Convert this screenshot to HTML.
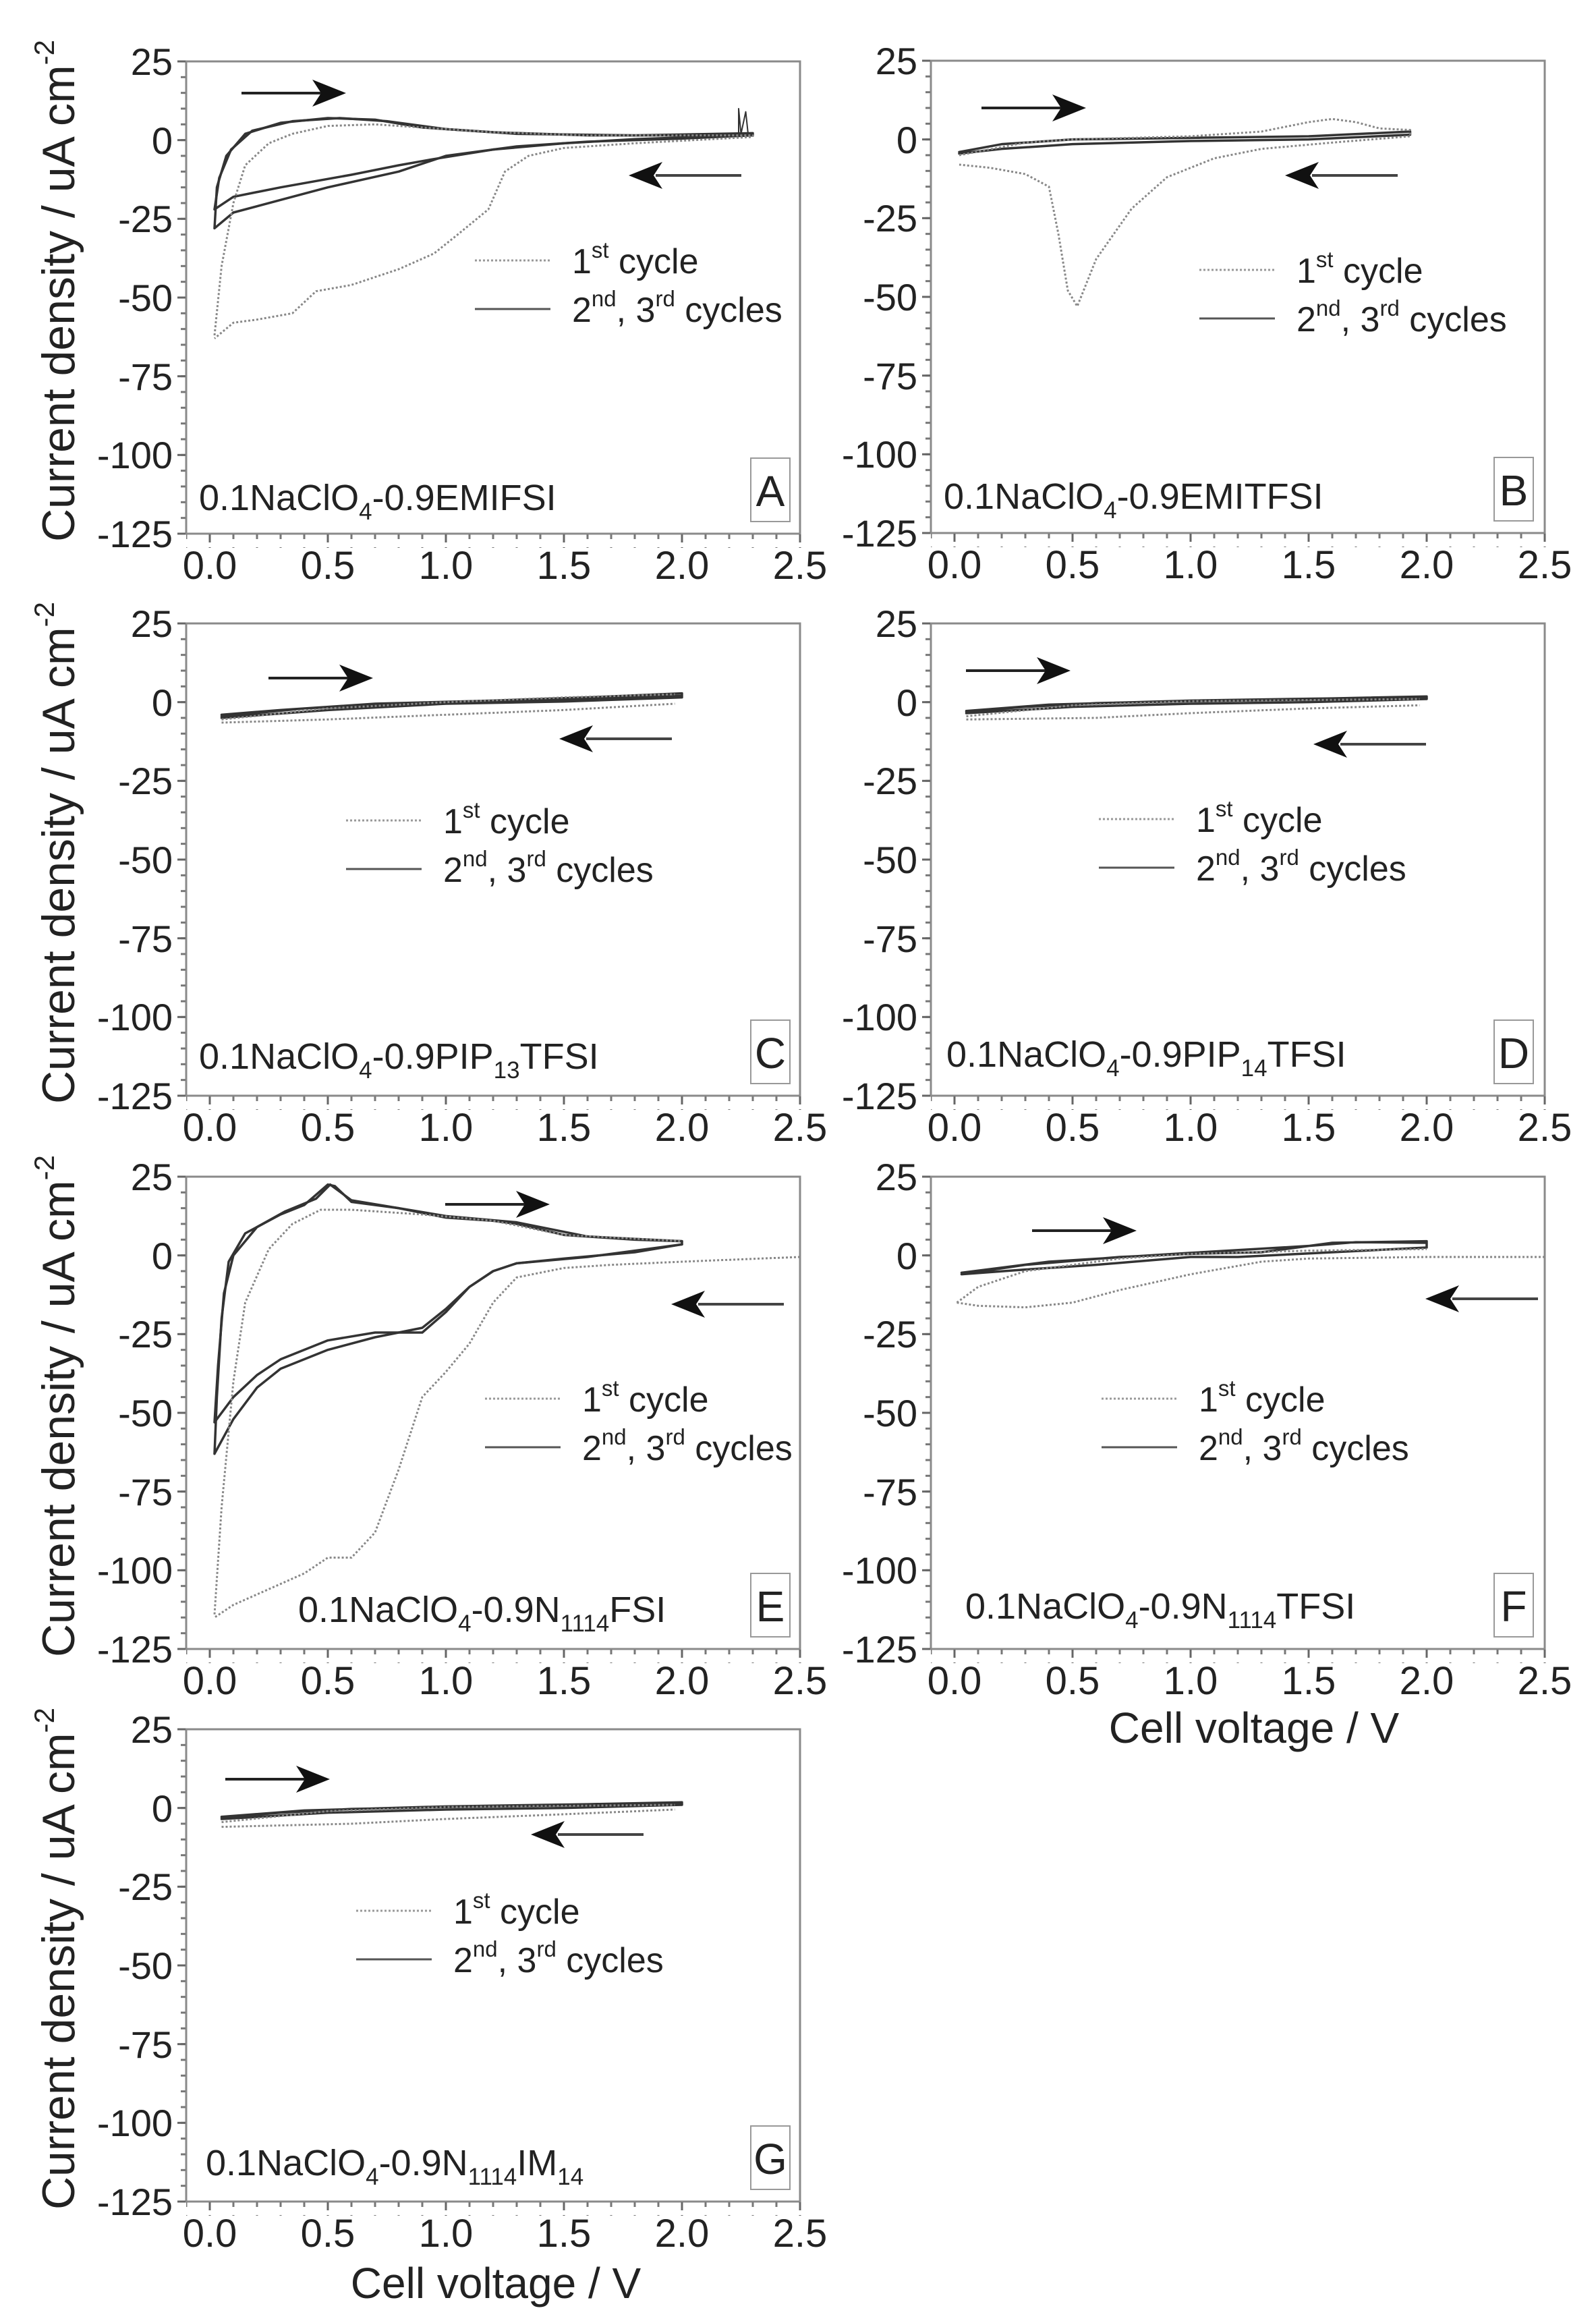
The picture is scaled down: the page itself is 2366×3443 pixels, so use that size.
<!DOCTYPE html>
<html><head><meta charset="utf-8"><style>
html,body{margin:0;padding:0;background:#fff;}
svg{display:block;}
text{font-family:"Liberation Sans",Arial,sans-serif;fill:#222;}
.dat{fill:none;vector-effect:non-scaling-stroke;stroke-linejoin:round;stroke-linecap:round;}
.s{stroke:#333;stroke-width:3.5;}
.d{stroke:#888;stroke-width:3;stroke-dasharray:3 3;stroke-linecap:butt;}
</style></head><body>
<svg width="2366" height="3443" viewBox="0 0 2366 3443" xmlns="http://www.w3.org/2000/svg">
<defs>
<pattern id="xm" patternUnits="userSpaceOnUse" x="-1.5" y="0" width="35" height="20"><rect x="0" y="0" width="3" height="8" fill="#777"/></pattern>
<pattern id="xM" patternUnits="userSpaceOnUse" x="33.5" y="0" width="175" height="20"><rect x="0" y="0" width="3" height="13" fill="#666"/></pattern>
<pattern id="ym" patternUnits="userSpaceOnUse" x="0" y="-1.5" width="20" height="23.3333"><rect x="12" y="0" width="8" height="3" fill="#777"/></pattern>
<pattern id="yM" patternUnits="userSpaceOnUse" x="0" y="-1.5" width="20" height="116.6667"><rect x="7" y="0" width="13" height="3" fill="#666"/></pattern>
<g id="ax">
<rect x="0" y="0" width="910" height="700" fill="none" stroke="#8a8a8a" stroke-width="3"/>
<rect x="0" y="701" width="912" height="20" fill="url(#xm)"/>
<rect x="0" y="701" width="912" height="20" fill="url(#xM)"/>
<rect x="-20" y="-2" width="19" height="704" fill="url(#ym)"/>
<rect x="-20" y="-2" width="19" height="704" fill="url(#yM)"/>
<g font-size="56" text-anchor="end">
<text x="-20" y="20">25</text><text x="-20" y="137">0</text><text x="-20" y="253">-25</text>
<text x="-20" y="370">-50</text><text x="-20" y="487">-75</text><text x="-20" y="603">-100</text><text x="-20" y="720">-125</text>
</g>
<g font-size="58" text-anchor="middle">
<text x="35" y="767">0.0</text><text x="210" y="767">0.5</text><text x="385" y="767">1.0</text>
<text x="560" y="767">1.5</text><text x="735" y="767">2.0</text><text x="910" y="767">2.5</text>
</g>
</g>
<g id="leg">
<line x1="0" y1="0" x2="112" y2="0" stroke="#999" stroke-width="3" stroke-dasharray="3 3"/>
<line x1="0" y1="72" x2="112" y2="72" stroke="#555" stroke-width="3"/>
<text x="144" y="19" font-size="52">1<tspan font-size="33" dy="-23">st</tspan><tspan dy="23"> cycle</tspan></text>
<text x="144" y="91" font-size="52">2<tspan font-size="33" dy="-23">nd</tspan><tspan dy="23">, 3</tspan><tspan font-size="33" dy="-23">rd</tspan><tspan dy="23"> cycles</tspan></text>
</g>
<g id="ra"><line x1="0" y1="0" x2="120" y2="0" stroke="#222" stroke-width="4"/><polygon points="155,0 105,-20 118,0 105,20" fill="#111"/></g>
<g id="la"><line x1="40" y1="0" x2="167" y2="0" stroke="#444" stroke-width="4"/><polygon points="0,0 50,-20 37,0 50,20" fill="#111"/></g>
</defs>

<g font-size="68" text-anchor="middle">
<text transform="translate(110,431) rotate(-90)">Current density / uA cm<tspan font-size="42" dy="-30">-2</tspan></text>
<text transform="translate(110,1264) rotate(-90)">Current density / uA cm<tspan font-size="42" dy="-30">-2</tspan></text>
<text transform="translate(110,2084) rotate(-90)">Current density / uA cm<tspan font-size="42" dy="-30">-2</tspan></text>
<text transform="translate(110,2903) rotate(-90)">Current density / uA cm<tspan font-size="42" dy="-30">-2</tspan></text>
</g>
<g font-size="64" text-anchor="middle">
<text x="1859" y="2583">Cell voltage / V</text>
<text x="735" y="3406">Cell voltage / V</text>
</g>

<g transform="translate(276,91)">
<use href="#ax"/>
<g transform="translate(35,116.667) scale(350,-4.66667)">
<path class="dat s" d="M0.02,-28 L0.03,-15 L0.07,-5 L0.15,2 L0.3,5.5 L0.5,7 L0.7,6.5 L0.9,4 L1.2,2.5 L1.6,1.5 L2.0,1.5 L2.3,2 L2.3,1.5 L2.0,0.5 L1.6,-0.5 L1.3,-2 L1.0,-5 L0.8,-10 L0.5,-15 L0.3,-19 L0.1,-23 L0.02,-28"/>
<path class="dat s" d="M0.02,-22 L0.04,-12 L0.09,-3 L0.18,3 L0.35,6 L0.55,7 L0.75,6 L1.0,3.5 L1.3,2 L1.8,1.5 L2.3,2.2 M2.3,1.6 L1.8,0.3 L1.5,-1 L1.2,-3 L0.95,-6 L0.8,-8 L0.6,-11 L0.3,-15 L0.1,-18 L0.02,-22"/>
<path class="dat d" d="M0.02,-62 L0.05,-40 L0.1,-20 L0.15,-8 L0.25,-1 L0.35,2 L0.5,4.5 L0.7,5 L0.9,4 L1.2,2.5 L1.6,1.5 L2.0,1.5 L2.3,1.5 L2.3,1 L1.8,-1 L1.5,-2.5 L1.35,-5 L1.25,-10 L1.18,-22 L1.05,-30 L0.95,-36 L0.8,-41 L0.6,-46 L0.45,-48 L0.35,-55 L0.2,-57 L0.1,-58 L0.02,-63"/>
<path class="dat s" style="stroke-width:2" d="M2.24,2 L2.24,10 L2.25,2 L2.27,9 L2.28,2"/>
</g>
<use href="#leg" x="428" y="295"/>
<use href="#ra" x="82" y="47"/>
<use href="#la" x="656" y="169"/>
<text x="19" y="665" font-size="54">0.1NaClO<tspan font-size="35" dy="14">4</tspan><tspan dy="-14">-0.9EMIFSI</tspan></text>
<rect x="837" y="588" width="58" height="94" fill="none" stroke="#999" stroke-width="2"/>
<text x="866" y="659" font-size="64" text-anchor="middle">A</text>
</g>

<g transform="translate(1380,90)">
<use href="#ax"/>
<g transform="translate(35,116.667) scale(350,-4.66667)">
<path class="dat s" d="M0.02,-4 L0.2,-1.5 L0.5,0 L1.0,0.5 L1.5,1 L1.93,2.5 L1.93,1.5 L1.5,0 L1.0,-0.5 L0.5,-1.5 L0.2,-3 L0.02,-4.5"/>
<path class="dat d" d="M0.02,-5 L0.3,-1 L0.5,0 L1.0,1 L1.3,2.5 L1.5,5.5 L1.6,6.5 L1.7,5.5 L1.8,3.5 L1.93,3 L1.93,1 L1.6,-1 L1.3,-3 L1.1,-6 L0.9,-12 L0.75,-22 L0.6,-38 L0.52,-53 L0.48,-48 L0.44,-30 L0.4,-15 L0.3,-11 L0.15,-9 L0.02,-8"/>
</g>
<use href="#leg" x="398" y="310"/>
<use href="#ra" x="75" y="70"/>
<use href="#la" x="525" y="170"/>
<text x="19" y="664" font-size="54">0.1NaClO<tspan font-size="35" dy="14">4</tspan><tspan dy="-14">-0.9EMITFSI</tspan></text>
<rect x="835" y="588" width="58" height="94" fill="none" stroke="#999" stroke-width="2"/>
<text x="864" y="659" font-size="64" text-anchor="middle">B</text>
</g>

<g transform="translate(276,924)">
<use href="#ax"/>
<g transform="translate(35,116.667) scale(350,-4.66667)">
<path class="dat s" d="M0.05,-4 L0.3,-2.5 L0.7,-0.5 L1.2,0.5 L1.6,1.5 L2.0,2.8 L2.0,1.5 L1.5,0.2 L1.0,-0.5 L0.5,-2.5 L0.05,-5 M0.05,-4.5 L0.4,-2 L1.0,0 L1.6,1 L2.0,2"/>
<path class="dat d" d="M0.05,-6.5 L0.5,-5.5 L1.0,-4 L1.5,-2.5 L1.97,-0.5 M0.05,-5.5 L0.5,-2 L1.0,0 L1.5,1.5 L1.97,2.5"/>
</g>
<use href="#leg" x="237" y="292"/>
<use href="#ra" x="122" y="81"/>
<use href="#la" x="553" y="171"/>
<text x="19" y="660" font-size="54">0.1NaClO<tspan font-size="35" dy="14">4</tspan><tspan dy="-14">-0.9PIP</tspan><tspan font-size="35" dy="14">13</tspan><tspan dy="-14">TFSI</tspan></text>
<rect x="837" y="588" width="58" height="94" fill="none" stroke="#999" stroke-width="2"/>
<text x="866" y="659" font-size="64" text-anchor="middle">C</text>
</g>

<g transform="translate(1380,924)">
<use href="#ax"/>
<g transform="translate(35,116.667) scale(350,-4.66667)">
<path class="dat s" d="M0.05,-3 L0.3,-1.5 L0.6,-0.3 L1.0,0.3 L1.5,0.8 L2.0,1.5 L2.0,1 L1.5,0 L1.0,-0.5 L0.5,-1.5 L0.05,-3.5 M0.05,-2.8 L0.4,-0.8 L1.0,0.5 L1.6,1.2 L2.0,1.8"/>
<path class="dat d" d="M0.05,-5.5 L0.6,-5 L1.0,-3.5 L1.5,-2 L1.97,-1 M0.05,-4.5 L0.5,-1 L1.0,0.3 L1.97,1"/>
</g>
<use href="#leg" x="249" y="290"/>
<use href="#ra" x="52" y="70"/>
<use href="#la" x="567" y="179"/>
<text x="23" y="657" font-size="54">0.1NaClO<tspan font-size="35" dy="14">4</tspan><tspan dy="-14">-0.9PIP</tspan><tspan font-size="35" dy="14">14</tspan><tspan dy="-14">TFSI</tspan></text>
<rect x="835" y="588" width="58" height="94" fill="none" stroke="#999" stroke-width="2"/>
<text x="864" y="659" font-size="64" text-anchor="middle">D</text>
</g>

<g transform="translate(276,1744)">
<use href="#ax"/>
<g transform="translate(35,116.667) scale(350,-4.66667)">
<path class="dat s" d="M0.02,-63 L0.03,-45 L0.05,-20 L0.08,-2 L0.15,7 L0.3,13 L0.4,16 L0.5,22.5 L0.53,22 L0.6,17 L0.8,15 L1.0,12 L1.2,11 L1.3,10 L1.5,6.5 L1.8,5 L2.0,4.5 L2.0,3.5 L1.8,1 L1.5,-1 L1.3,-2.5 L1.2,-5 L1.1,-10 L1.0,-17 L0.9,-23 L0.7,-26 L0.5,-30 L0.3,-36 L0.2,-42 L0.1,-52 L0.02,-63"/>
<path class="dat s" d="M0.02,-53 L0.035,-35 L0.06,-12 L0.1,0 L0.2,9 L0.32,14 L0.45,18 L0.51,22.5 L0.6,17.5 L1.0,12.5 L1.3,10.5 L1.6,6 L2.0,4.5 M2.0,3.5 L1.6,-0.5 L1.3,-2.5 L1.2,-5 L1.1,-10 L1.0,-18 L0.9,-24.5 L0.7,-24.5 L0.5,-27 L0.3,-33 L0.2,-38 L0.1,-45 L0.02,-53"/>
<path class="dat d" d="M0.02,-114 L0.05,-80 L0.1,-40 L0.15,-15 L0.25,2 L0.35,10 L0.47,14.5 L0.6,14.5 L0.9,13 L1.2,11 L1.5,6.5 L2.0,4.5 M2.5,-0.5 L2.0,-2 L1.7,-3 L1.5,-4 L1.3,-7 L1.2,-15 L1.1,-28 L1.0,-37 L0.9,-45 L0.8,-68 L0.7,-88 L0.6,-96 L0.5,-96 L0.4,-101 L0.25,-106 L0.1,-111 L0.02,-115"/>
</g>
<use href="#leg" x="443" y="329"/>
<use href="#ra" x="384" y="41"/>
<use href="#la" x="719" y="189"/>
<text x="166" y="660" font-size="54">0.1NaClO<tspan font-size="35" dy="14">4</tspan><tspan dy="-14">-0.9N</tspan><tspan font-size="35" dy="14">1114</tspan><tspan dy="-14">FSI</tspan></text>
<rect x="837" y="588" width="58" height="94" fill="none" stroke="#999" stroke-width="2"/>
<text x="866" y="659" font-size="64" text-anchor="middle">E</text>
</g>

<g transform="translate(1380,1744)">
<use href="#ax"/>
<g transform="translate(35,116.667) scale(350,-4.66667)">
<path class="dat s" d="M0.03,-6 L0.3,-3 L0.7,-0.5 L1.0,0.5 L1.3,1 L1.6,4 L2.0,4.5 L2.0,2.5 L1.6,1 L1.2,-0.5 L1.0,-0.5 L0.6,-3 L0.3,-4.5 L0.03,-6 M0.03,-5.5 L0.4,-2 L1.0,0.8 L1.5,3 L1.7,4.2 L2.0,4"/>
<path class="dat d" d="M0.01,-15 L0.1,-10 L0.3,-5 L0.7,-1 L1.0,0.5 L1.5,1.5 L2.0,2 M2.5,-0.5 L2.0,-0.5 L1.5,-1 L1.3,-2 L1.0,-6 L0.7,-11 L0.5,-15 L0.3,-16.5 L0.1,-16 L0.01,-15"/>
</g>
<use href="#leg" x="253" y="329"/>
<use href="#ra" x="150" y="80"/>
<use href="#la" x="733" y="181"/>
<text x="51" y="655" font-size="54">0.1NaClO<tspan font-size="35" dy="14">4</tspan><tspan dy="-14">-0.9N</tspan><tspan font-size="35" dy="14">1114</tspan><tspan dy="-14">TFSI</tspan></text>
<rect x="835" y="588" width="58" height="94" fill="none" stroke="#999" stroke-width="2"/>
<text x="864" y="659" font-size="64" text-anchor="middle">F</text>
</g>

<g transform="translate(276,2563)">
<use href="#ax"/>
<g transform="translate(35,116.667) scale(350,-4.66667)">
<path class="dat s" d="M0.05,-3 L0.3,-1.5 L0.6,-0.3 L1.0,0.3 L1.5,0.8 L2.0,1.5 L2.0,1 L1.5,0 L1.0,-0.5 L0.5,-1.5 L0.05,-3.5 M0.05,-2.8 L0.4,-0.8 L1.0,0.5 L1.6,1.2 L2.0,1.8"/>
<path class="dat d" d="M0.05,-6 L0.6,-5 L1.0,-3.5 L1.5,-2 L1.97,-0.5 M0.05,-4.5 L0.5,-1 L1.0,0.3 L1.97,1"/>
</g>
<use href="#leg" x="252" y="269"/>
<use href="#ra" x="58" y="74"/>
<use href="#la" x="511" y="156"/>
<text x="29" y="661" font-size="54">0.1NaClO<tspan font-size="35" dy="14">4</tspan><tspan dy="-14">-0.9N</tspan><tspan font-size="35" dy="14">1114</tspan><tspan dy="-14">IM</tspan><tspan font-size="35" dy="14">14</tspan></text>
<rect x="837" y="588" width="58" height="94" fill="none" stroke="#999" stroke-width="2"/>
<text x="866" y="659" font-size="64" text-anchor="middle">G</text>
</g>
</svg>
</body></html>
